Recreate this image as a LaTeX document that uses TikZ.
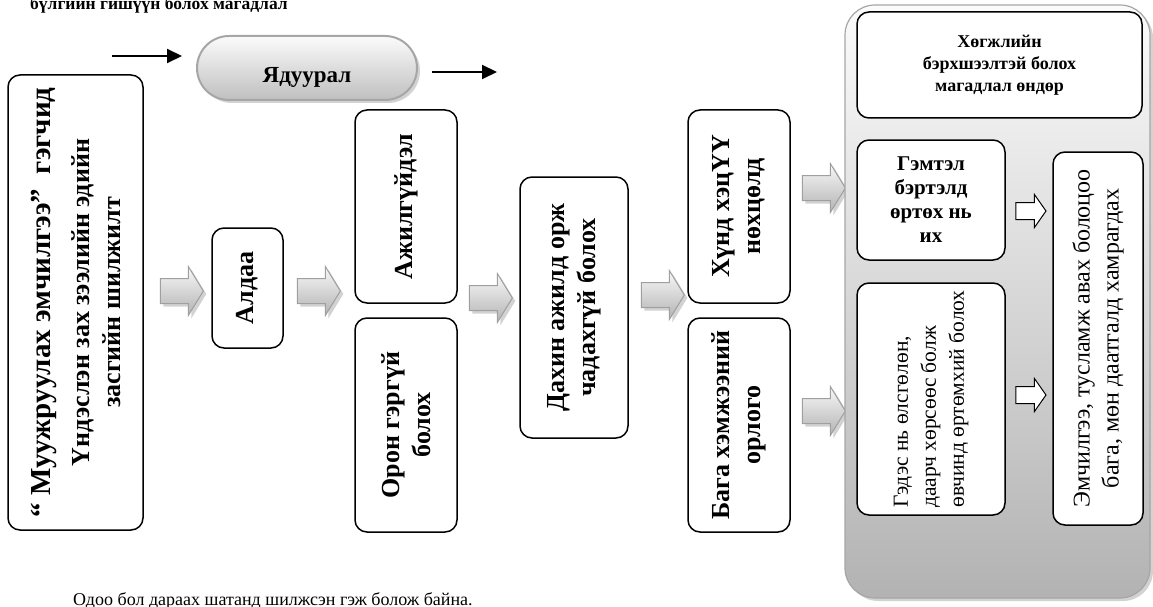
\documentclass[tikz,border=0pt]{standalone}
\usepackage{fontspec}
\setmainfont{Liberation Serif}
\usetikzlibrary{shapes,arrows.meta,shadows}

\begin{document}
\begin{tikzpicture}[
    x=1pt,
    y=-1pt,
    box/.style={
        rectangle,
        draw,
        line width=1.5pt,
        fill=white,
        rounded corners=12pt,
        align=center,
        inner sep=3pt,
        font=\fontsize{26}{31}\selectfont\bfseries
    },
    vbox/.style={
        box,
        rotate=90
    },
    shadowed/.style={
        drop shadow={shadow xshift=3pt, shadow yshift=-3pt, fill=gray!70, opacity=0.5}
    },
    pill/.style={
        rectangle,
        draw=gray!70,
        line width=2pt,
        top color=gray!3,
        bottom color=gray!50,
        rounded corners=32pt,
        shadowed,
        font=\fontsize{23}{27}\selectfont\bfseries
    },
    group/.style={
        rectangle,
        draw=gray!70,
        line width=1.2pt,
        top color=gray!3,
        bottom color=gray!60,
        rounded corners=30pt,
        shadowed
    },
    bigarrow/.style={
        single arrow,
        draw=gray!75,
        line width=1pt,
        top color=gray!5,
        bottom color=gray!60,
        inner xsep=0pt,
        inner ysep=12pt,
        single arrow head extend=12pt,
        single arrow tip angle=117,
        minimum height=43pt,
        shadowed
    },
    smallarrow/.style={
        single arrow,
        draw,
        line width=1pt,
        fill=white,
        inner xsep=0pt,
        inner ysep=8pt,
        single arrow head extend=8pt,
        single arrow tip angle=110,
        minimum height=30pt
    },
    flow/.style={
        draw,
        line width=2pt,
        -{Triangle[length=15pt,width=14pt]}
    }
]
\useasboundingbox (0,0) rectangle (1153,607);

% Text above and below
\node [anchor=base west, inner sep=0pt, font=\fontsize{17.5}{20}\selectfont\bfseries] (title) at (30,10) {бүлгийн гишүүн болох магадлал};
\node [anchor=base west, inner sep=0pt, font=\fontsize{18}{21}\selectfont] (note) at (73,605) {Одоо бол дараах шатанд шилжсэн гэж болож байна.};

% Top row
\node [pill, minimum width=220pt, minimum height=64pt, text height=30pt, text depth=0pt] (poverty) at (307,68) {Ядуурал};
\coordinate (inA) at (112,56);
\coordinate (inB) at (182,56);
\coordinate (outA) at (432,72);
\coordinate (outB) at (497,72);

% Chain of boxes
\node [vbox, minimum width=455pt, minimum height=135pt] (reform) at (75.5,302.5)
    {{\fontsize{29}{34}\selectfont “ Муужруулах эмчилгээ”\ \ гэгчид}\\[8pt]
     Үндэслэн зах зээлийн эдийн\\засгийн шилжилт};
\node [vbox, minimum width=120pt, minimum height=71pt] (loss) at (247.5,288) {Алдаа};
\node [vbox, minimum width=193pt, minimum height=102pt] (jobless) at (406,206.5) {Ажилгүйдэл};
\node [vbox, minimum width=214pt, minimum height=102pt] (homeless) at (406,425) {Орон гэргүй\\болох};
\node [vbox, minimum width=261pt, minimum height=108pt] (nowork) at (574,307.5) {Дахин ажилд орж\\чадахгүй болох};
\node [vbox, minimum width=193pt, minimum height=102pt] (hardship) at (739,206.5) {Хүнд хэцҮҮ\\нөхцөлд};
\node [vbox, minimum width=214pt, minimum height=102pt] (income) at (739,425) {Бага хэмжээний\\орлого};

% Gray block arrows
\node [bigarrow] (ar1) at (178,291) {};
\node [bigarrow] (ar2) at (315,291) {};
\node [bigarrow] (ar3) at (487,298) {};
\node [bigarrow] (ar4) at (659,295) {};
\node [bigarrow] (ar5) at (820,188) {};
\node [bigarrow] (ar6) at (820,411) {};

% Right group
\node [group, minimum width=305pt, minimum height=593pt] (risk) at (997.5,301.5) {};
\node [box, minimum width=285pt, minimum height=106pt, font=\fontsize{18}{22}\selectfont\bfseries] (disabled) at (999.5,65) {Хөгжлийн\\бэрхшээлтэй болох\\магадлал өндөр};
\node [box, minimum width=148pt, minimum height=120pt, font=\fontsize{21}{24}\selectfont\bfseries] (injury) at (931,200) {Гэмтэл\\бэртэлд\\өртөх нь\\их};
\node [vbox, minimum width=232pt, minimum height=148pt, align=left, font=\fontsize{21.5}{28}\selectfont] (illness) at (931,399) {Гэдэс нь өлсгөлөн,\\даарч хөрсөөс болж\\өвчинд өртөмхий болох};
\node [vbox, minimum width=373pt, minimum height=90pt, font=\fontsize{24}{29}\selectfont] (care) at (1098,338.5) {Эмчилгээ, тусламж авах болоцоо\\бага, мөн даатгалд хамрагдах};
\node [smallarrow] (wa1) at (1028,211) {};
\node [smallarrow] (wa2) at (1028,395) {};

% Thin arrows
\path [flow] (inA) -- (inB);
\path [flow] (outA) -- (outB);

\end{tikzpicture}
\end{document}
